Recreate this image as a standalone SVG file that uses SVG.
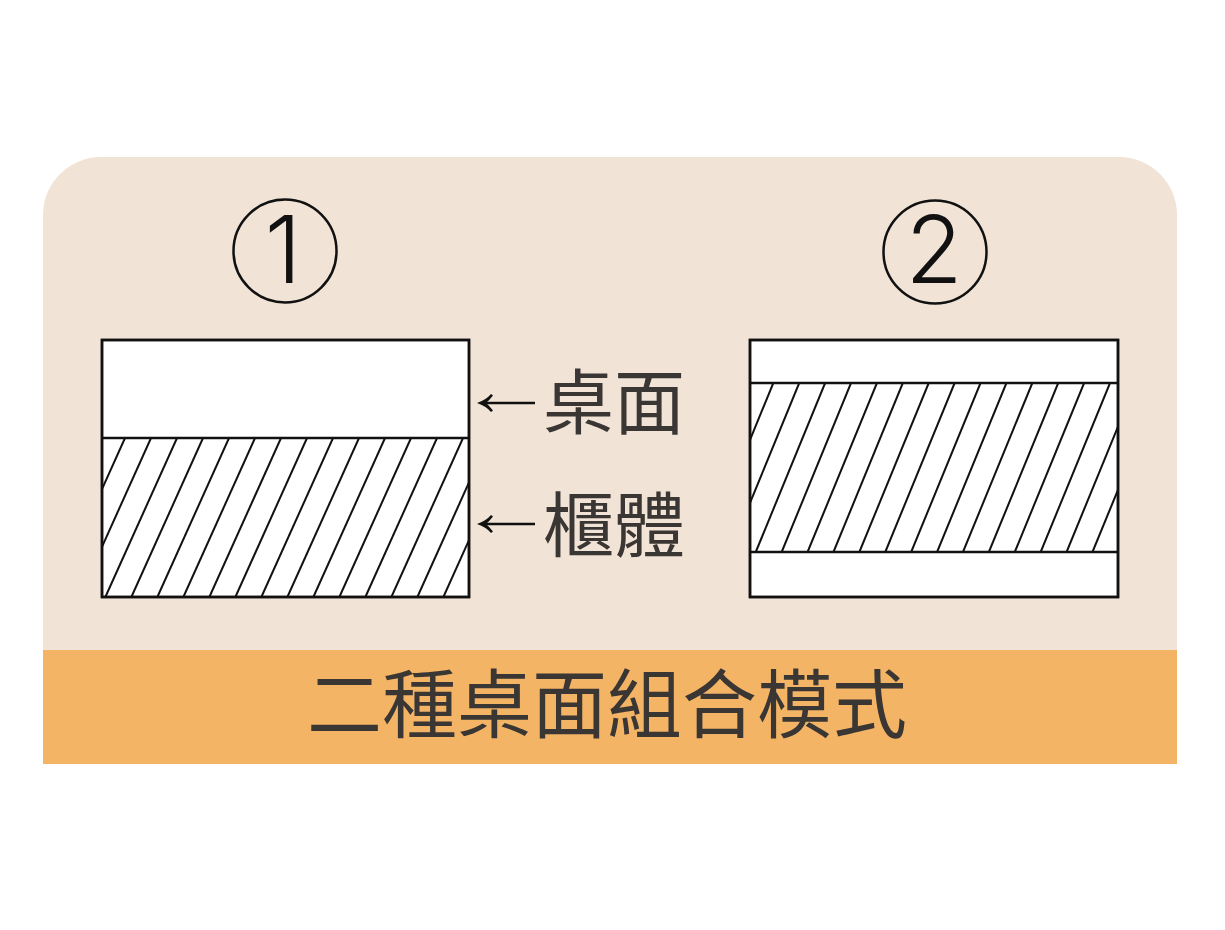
<svg xmlns="http://www.w3.org/2000/svg" width="1225" height="930" viewBox="0 0 1225 930">
  <style>
    .box { fill: #ffffff; stroke: #111111; stroke-width: 2.5; }
    .div { stroke: #111111; stroke-width: 2.5; fill: none; }
    .hatch { stroke: #111111; stroke-width: 2; fill: none; }
    .num { font-family: Inter, "DejaVu Sans", sans-serif; font-weight: 300; fill: #111111; text-anchor: middle; }
    .ring { fill: none; stroke: #111111; stroke-width: 2.5; }
    .label { font-family: "Noto Sans CJK TC", "Noto Sans CJK SC", sans-serif; fill: #3a3633; }
    .arr { stroke: #111111; stroke-width: 2.5; fill: none; }
    .head { fill: #111111; }
  </style>
  <defs>
    <clipPath id="c1"><rect x="102" y="438" width="367" height="159"/></clipPath>
    <clipPath id="c2"><rect x="750" y="383" width="368" height="169"/></clipPath>
  </defs>
  <rect x="0" y="0" width="1225" height="930" fill="#ffffff"/>
  <g id="panel">
    <path d="M43,650 V215 A58,58 0 0 1 101,157 H1119 A58,58 0 0 1 1177,215 V650 Z" fill="#f1e3d6"/>
    <rect x="43" y="650" width="1134" height="114" fill="#f4b466"/>
  </g>
  <g id="mark1">
    <circle class="ring" cx="285" cy="251" r="51.5"/>
    <text class="num" x="283" y="283" font-size="93">1</text>
  </g>
  <g id="mark2">
    <circle class="ring" cx="935" cy="252" r="51.5"/>
    <text class="num" x="934" y="283" font-size="93">2</text>
  </g>
  <g id="model1">
    <rect class="box" x="102" y="340" width="367" height="257"/>
    <g clip-path="url(#c1)" class="hatch">
      <line x1="125" y1="438" x2="53.4" y2="597"/>
      <line x1="151" y1="438" x2="79.4" y2="597"/>
      <line x1="177" y1="438" x2="105.4" y2="597"/>
      <line x1="203" y1="438" x2="131.4" y2="597"/>
      <line x1="229" y1="438" x2="157.4" y2="597"/>
      <line x1="255" y1="438" x2="183.4" y2="597"/>
      <line x1="281" y1="438" x2="209.4" y2="597"/>
      <line x1="307" y1="438" x2="235.4" y2="597"/>
      <line x1="333" y1="438" x2="261.4" y2="597"/>
      <line x1="359" y1="438" x2="287.4" y2="597"/>
      <line x1="385" y1="438" x2="313.4" y2="597"/>
      <line x1="411" y1="438" x2="339.4" y2="597"/>
      <line x1="437" y1="438" x2="365.4" y2="597"/>
      <line x1="463" y1="438" x2="391.4" y2="597"/>
      <line x1="489" y1="438" x2="417.4" y2="597"/>
      <line x1="515" y1="438" x2="443.4" y2="597"/>
    </g>
    <line class="div" x1="102" y1="438" x2="469" y2="438"/>
    <rect x="102" y="340" width="367" height="257" fill="none" stroke="#111111" stroke-width="2.5"/>
  </g>
  <g id="model2">
    <rect class="box" x="750" y="340" width="368" height="257"/>
    <g clip-path="url(#c2)" class="hatch">
      <line x1="773.3" y1="383" x2="704" y2="552"/>
      <line x1="799.2" y1="383" x2="729.9" y2="552"/>
      <line x1="825.1" y1="383" x2="755.8" y2="552"/>
      <line x1="851" y1="383" x2="781.7" y2="552"/>
      <line x1="876.9" y1="383" x2="807.6" y2="552"/>
      <line x1="902.8" y1="383" x2="833.5" y2="552"/>
      <line x1="928.7" y1="383" x2="859.4" y2="552"/>
      <line x1="954.6" y1="383" x2="885.3" y2="552"/>
      <line x1="980.5" y1="383" x2="911.2" y2="552"/>
      <line x1="1006.4" y1="383" x2="937.1" y2="552"/>
      <line x1="1032.3" y1="383" x2="963" y2="552"/>
      <line x1="1058.2" y1="383" x2="988.9" y2="552"/>
      <line x1="1084.1" y1="383" x2="1014.8" y2="552"/>
      <line x1="1110" y1="383" x2="1040.7" y2="552"/>
      <line x1="1135.9" y1="383" x2="1066.6" y2="552"/>
      <line x1="1161.8" y1="383" x2="1092.5" y2="552"/>
    </g>
    <line class="div" x1="750" y1="383" x2="1118" y2="383"/>
    <line class="div" x1="750" y1="552" x2="1118" y2="552"/>
    <rect x="750" y="340" width="368" height="257" fill="none" stroke="#111111" stroke-width="2.5"/>
  </g>
  <g id="connectors">
    <line class="arr" x1="482" y1="403" x2="535" y2="403"/>
    <path class="head" d="M491,394 Q486,400 477,403 Q486,406 491,412 L493,410.5 Q489.5,406 486,403 Q489.5,400 493,395.5 Z"/>
    <line class="arr" x1="482" y1="524" x2="535" y2="524"/>
    <path class="head" d="M491,515 Q486,521 477,524 Q486,527 491,533 L493,531.5 Q489.5,527 486,524 Q489.5,521 493,516.5 Z"/>
  </g>
  <g id="label-top">
    <text class="label" x="543" y="428" font-size="71">桌面</text>
  </g>
  <g id="label-body">
    <text class="label" x="543" y="551" font-size="71">櫃體</text>
  </g>
  <g id="title">
    <text class="label" x="307" y="732" font-size="75">二種桌面組合模式</text>
  </g>
</svg>
